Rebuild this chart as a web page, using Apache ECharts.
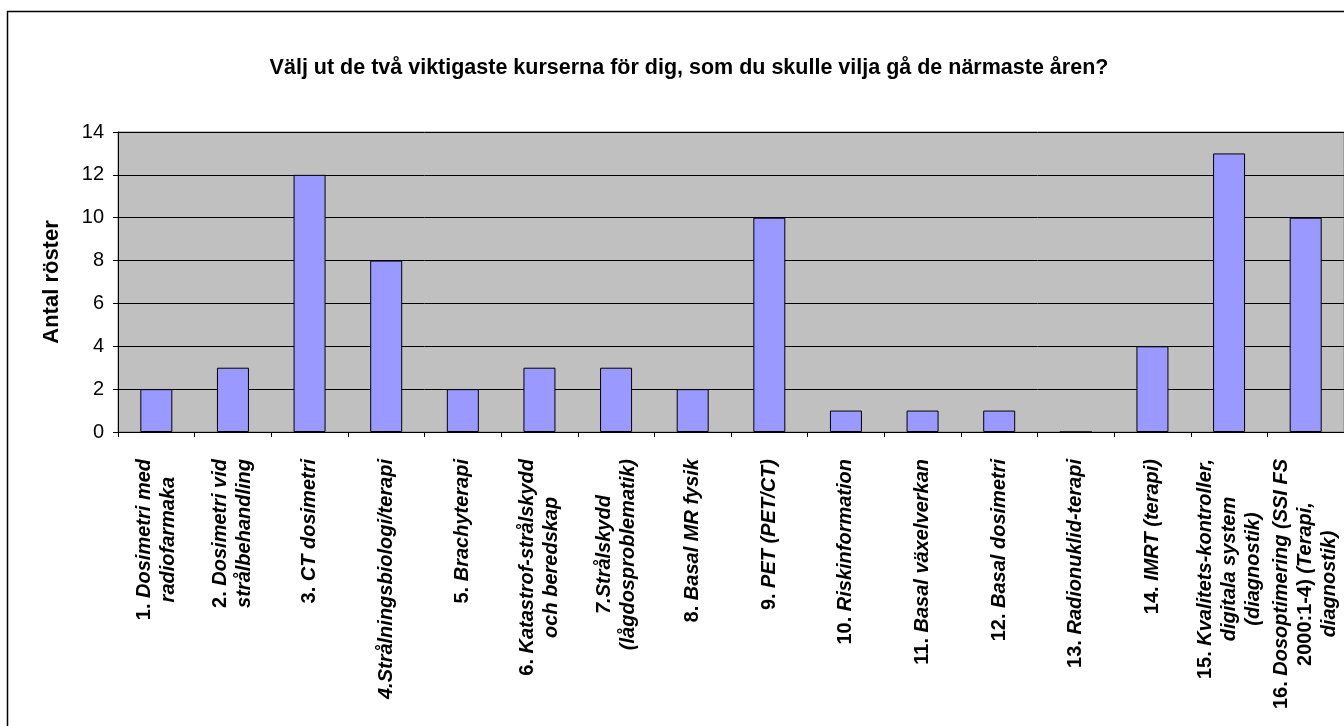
<!DOCTYPE html>
<html>
<head>
<meta charset="utf-8">
<script src="https://cdn.jsdelivr.net/npm/echarts@6/dist/echarts.min.js"></script>
<style>
html,body{margin:0;padding:0;overflow:hidden;background:#fff;}
#chart{width:1344px;height:726px;}
</style>
</head>
<body>
<div id="chart"></div>
<script>
var titleText = 'Välj ut de två viktigaste kurserna för dig, som du skulle vilja gå de närmaste åren?';
var yAxisName = 'Antal röster';
var categories = [
  '1. Dosimetri med\nradiofarmaka',
  '2. Dosimetri vid\nstrålbehandling',
  '3. CT dosimetri',
  '4.Strålningsbiologi/terapi',
  '5. Brachyterapi',
  '6. Katastrof-strålskydd\noch beredskap',
  '7.Strålskydd\n(lågdosproblematik)',
  '8. Basal MR fysik',
  '9. PET (PET/CT)',
  '10. Riskinformation',
  '11. Basal växelverkan',
  '12. Basal dosimetri',
  '13. Radionuklid-terapi',
  '14. IMRT (terapi)',
  '15. Kvalitets-kontroller,\ndigitala system\n(diagnostik)',
  '16. Dosoptimering (SSI FS\n2000:1-4) (Terapi,\ndiagnostik)'
];
var votes = [2, 3, 12, 8, 2, 3, 3, 2, 10, 1, 1, 1, 0, 4, 13, 10];
var yTicks = [0, 2, 4, 6, 8, 10, 12, 14];

var FONT = '"Liberation Sans", Arial, sans-serif';

function richLabel(v) {
  return v.split('\n').map(function (line) {
    var out = '';
    var m = line.match(/^(\d+\.\s)(.*)$/) || line.match(/^(\d{4}:[\d-]+\)\s?)(.*)$/);
    if (m) {
      out += '{n|' + m[1] + '}';
      if (m[2]) out += '{i|' + m[2] + '}';
    } else {
      out += '{i|' + line + '}';
    }
    return out;
  }).join('\n');
}

var chart = echarts.init(document.getElementById('chart'), null, {renderer: 'canvas'});
var labelBase = {fontFamily: FONT, fontSize: 20, fontWeight: 'bold', color: '#000', align: 'center', lineHeight: 24};
chart.setOption({
  animation: false,
  backgroundColor: '#fff',
  title: {
    text: titleText,
    left: 689,
    top: 57,
    padding: 0,
    textAlign: 'center',
    textStyle: {fontFamily: FONT, fontSize: 21.5, fontWeight: 'bold', color: '#000'}
  },
  graphic: [{
    type: 'rect',
    shape: {x: 7.5, y: 11.5, width: 1364, height: 800},
    style: {fill: 'none', stroke: '#000', lineWidth: 1.5},
    silent: true,
    z: 100
  }],
  grid: {
    left: 118, top: 132, width: 1237, height: 300,
    show: true, backgroundColor: '#C0C0C0', borderColor: '#808080', borderWidth: 1
  },
  xAxis: {
    type: 'category',
    data: categories,
    boundaryGap: true,
    axisLine: {lineStyle: {color: '#000', width: 1}},
    axisTick: {show: true, length: 5, lineStyle: {color: '#000'}, alignWithLabel: false, interval: 0},
    axisLabel: {
      interval: 0, rotate: 90, margin: 27,
      formatter: richLabel,
      rich: {
        n: Object.assign({}, labelBase, {fontStyle: 'normal'}),
        i: Object.assign({}, labelBase, {fontStyle: 'italic'})
      }
    }
  },
  yAxis: {
    type: 'value',
    min: yTicks[0], max: yTicks[yTicks.length - 1], interval: 2,
    name: yAxisName,
    nameLocation: 'middle',
    nameRotate: 90,
    nameGap: 55,
    nameTextStyle: {fontFamily: FONT, fontSize: 22, fontWeight: 'bold', color: '#000'},
    axisLine: {show: true, lineStyle: {color: '#000', width: 1}},
    axisTick: {show: true, length: 5, lineStyle: {color: '#000'}},
    axisLabel: {fontFamily: FONT, fontSize: 20, color: '#000', margin: 14},
    splitLine: {show: true, lineStyle: {color: '#000', width: 1}}
  },
  series: [{
    type: 'bar',
    data: votes,
    barWidth: 32,
    itemStyle: {color: '#9999FF', borderColor: '#000', borderWidth: 1}
  }]
});
</script>
</body>
</html>
